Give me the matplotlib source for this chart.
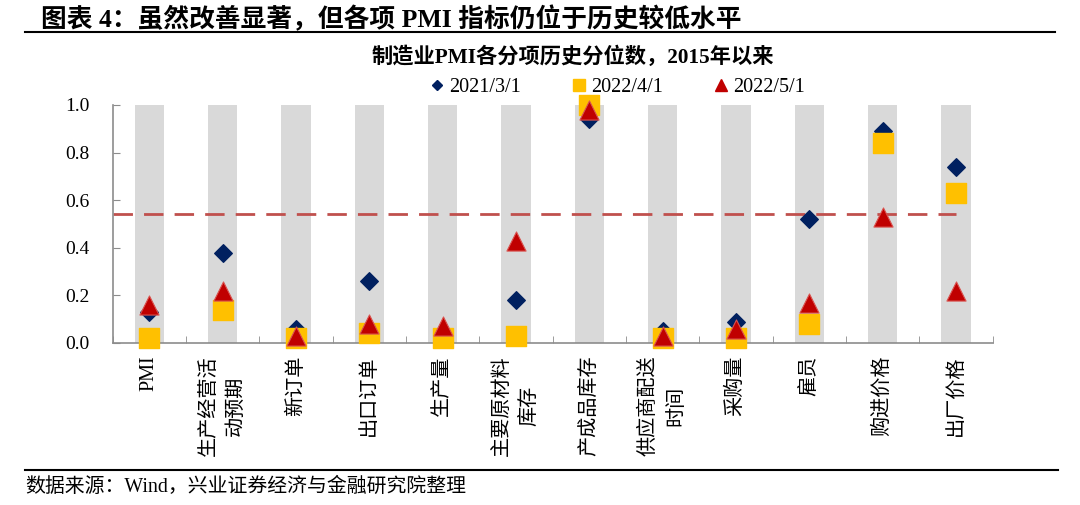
import matplotlib
matplotlib.use('Agg')
import matplotlib.pyplot as plt
from matplotlib.lines import Line2D
import numpy as np

# 字体：拉丁字符用衬线体，中文回退到 Noto Sans CJK SC
FONTS = ['Liberation Serif', 'Noto Sans CJK SC', 'DejaVu Sans']
plt.rcParams['font.family'] = FONTS
plt.rcParams['axes.unicode_minus'] = False

# 数据
categories = ['PMI', '生产经营活\n动预期', '新订单', '出口订单', '生产量', '主要原材料\n库存',
              '产成品库存', '供应商配送\n时间', '采购量', '雇员', '购进价格', '出厂价格']
s_2021_03 = [0.13, 0.38, 0.06, 0.26, 0.02, 0.18, 0.94, 0.05, 0.09, 0.52, 0.89, 0.74]
s_2022_04 = [0.02, 0.14, 0.02, 0.04, 0.02, 0.03, 1.00, 0.02, 0.02, 0.08, 0.84, 0.63]
s_2022_05 = [0.16, 0.22, 0.03, 0.08, 0.07, 0.43, 0.98, 0.03, 0.06, 0.17, 0.53, 0.22]
ref_level = 0.54
y_ticks = [0.0, 0.2, 0.4, 0.6, 0.8, 1.0]

c_navy = '#002060'
c_yellow = '#FFC000'
c_red = '#C00000'
c_gray = '#D9D9D9'
c_axis = '#8C8C8C'

fig = plt.figure(figsize=(10.8, 5.05), dpi=100)
ax = fig.add_axes([0.1044, 0.3208, 0.8148, 0.4713])

x = np.arange(len(categories))

# 灰色背景柱
ax.bar(x, [1.0] * len(x), width=0.4, color=c_gray, zorder=0)

# 参考线
ax.plot([-0.5, len(x) - 1], [ref_level, ref_level], color='#C0504D', lw=2,
        dashes=(7, 4), zorder=1)

# 散点
ax.scatter(x, s_2021_03, marker='D', s=80, color=c_navy, zorder=3, clip_on=False)
ax.scatter(x, s_2022_04, marker='s', s=190, color=c_yellow, zorder=4, clip_on=False)
ax.scatter(x, s_2022_05, marker='^', s=190, color=c_red, edgecolors='#D9534F',
           linewidths=0.8, zorder=5, clip_on=False)

ax.set_xlim(-0.5, len(x) - 0.5)
ax.set_ylim(0, 1.0)

for side in ['top', 'right']:
    ax.spines[side].set_visible(False)
for side in ['left', 'bottom']:
    ax.spines[side].set_color(c_axis)
    ax.spines[side].set_linewidth(1.2)

ax.set_yticks(y_ticks)
ax.set_yticklabels(['%.1f' % v for v in y_ticks], fontsize=14)
ax.tick_params(axis='y', direction='in', length=5, color=c_axis, pad=17)

ax.set_xticks(x)
ax.set_xticklabels(categories, rotation=90, fontsize=14.5, va='top', ha='center',
                   multialignment='center', linespacing=1.6)
ax.tick_params(axis='x', which='major', length=0, pad=9)
ax.set_xticks(np.arange(-0.5, len(x), 1.0), minor=True)
ax.tick_params(axis='x', which='minor', direction='in', length=5, color=c_axis)

# 图例
handles = [
    Line2D([], [], marker='D', color=c_navy, ls='none', markersize=5),
    Line2D([], [], marker='s', color=c_yellow, ls='none', markersize=8),
    Line2D([], [], marker='^', color=c_red, ls='none', markersize=8),
]
fig.legend(handles, ['2021/3/1', '2022/4/1', '2022/5/1'], ncol=3, frameon=False,
           loc='center', bbox_to_anchor=(0.572, 0.826), fontsize=14.5,
           handlelength=0.6, handletextpad=0.3, columnspacing=2.6)

# 标题与注释
fig.text(0.038, 0.962, '图表 4：虽然改善显著，但各项 PMI 指标仍位于历史较低水平',
         fontsize=18.5, fontweight='bold', va='center', ha='left')
fig.add_artist(Line2D([0.023, 0.977], [0.936, 0.936], color='black', lw=1.5))
fig.text(0.53, 0.887, '制造业PMI各分项历史分位数，2015年以来',
         fontsize=15.3, fontweight='bold', va='center', ha='center')
fig.add_artist(Line2D([0.023, 0.98], [0.069, 0.069], color='black', lw=1.5))
fig.text(0.023, 0.036, '数据来源：Wind，兴业证券经济与金融研究院整理',
         fontsize=14.3, va='center', ha='left')

fig.savefig('out.png', dpi=100)
